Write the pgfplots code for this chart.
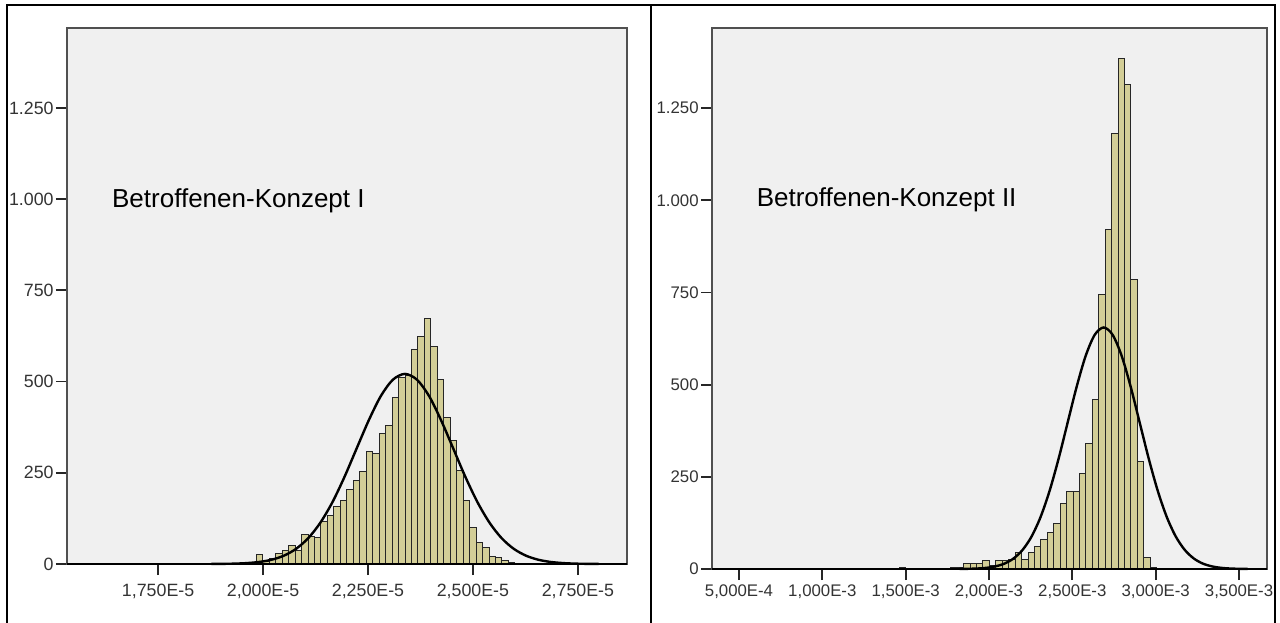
\documentclass[border=0pt]{standalone}
\usepackage{fontspec}
\setmainfont{Liberation Sans}
\usepackage{pgfplots}
\pgfplotsset{compat=1.18}
\definecolor{Panel}{HTML}{F0F0F0}
\definecolor{BarFill}{HTML}{D3CE97}
\definecolor{Frame}{HTML}{505050}
\definecolor{Ticktext}{HTML}{333333}
% shared SPSS-like histogram look
\pgfplotsset{spsshist/.style={scale only axis,enlargelimits=false,clip=false,
  axis background/.style={fill=Panel},
  axis line style={Frame,line width=0.9pt},
  tick pos=left,tick align=outside,major tick length=5.5pt,
  major tick style={black!85,line width=0.9pt},
  ymin=0,ytick={0,250,500,750,1000,1250},
  yticklabels={0,250,500,750,1.000,1.250},
  yticklabel style={inner sep=1pt},
  xticklabel style={inner sep=2pt},
  ticklabel style={text=Ticktext}}}
\pgfplotsset{bars/.style={ybar,bar shift=0pt,fill=BarFill,draw=black!85,line width=0.5pt},
  curve/.style={black,line width=1.2pt,smooth,mark=none}}
\begin{document}
\begin{tikzpicture}
\useasboundingbox (0,0) rectangle (640pt,-311pt);
\draw[black,line width=1pt] (3.4pt,-312pt) -- (3.4pt,-2.5pt) -- (637.5pt,-2.5pt) -- (637.5pt,-312pt);
\draw[black,line width=1pt] (325.5pt,-2.5pt) -- (325.5pt,-312pt);
% left panel
\begin{axis}[spsshist,at={(33.5pt,-282pt)},anchor=south west,width=280pt,height=268pt,
  xmin=1.533,xmax=2.867,ymax=1469,
  xtick={1.75,2.0,2.25,2.5,2.75},
  xticklabels={{1,750E-5},{2,000E-5},{2,250E-5},{2,500E-5},{2,750E-5}},
  ticklabel style={font=\fontsize{8.9}{10}\selectfont},
  xticklabel style={yshift=-2.5pt}]
\addplot[bars,bar width=0.0154] coordinates {(1.8993,1) (1.9147,1) (1.9301,2) (1.9455,1) (1.9609,4) (1.9763,5) (1.9917,25) (2.0071,6) (2.0225,16) (2.0379,30) (2.0533,37) (2.0687,52) (2.0841,37) (2.0995,80) (2.1149,76) (2.1303,73) (2.1457,116) (2.1611,133) (2.1765,158) (2.1919,174) (2.2073,204) (2.2227,228) (2.2381,253) (2.2535,309) (2.2689,304) (2.2843,359) (2.2997,379) (2.3151,457) (2.3305,512) (2.3459,516) (2.3613,588) (2.3767,623) (2.3921,674) (2.4075,596) (2.4229,505) (2.4383,402) (2.4537,338) (2.4691,256) (2.4845,174) (2.4999,100) (2.5153,59) (2.5307,46) (2.5461,21) (2.5615,18) (2.5769,9) (2.5923,4) (2.6077,2)};
\addplot[curve] coordinates {(1.8768,0.2) (1.9056,0.5) (1.9345,1.1) (1.9633,2.7) (1.9921,5.8) (2.0209,11.9) (2.0498,22.9) (2.0786,41.5) (2.1074,70.5) (2.1362,112.7) (2.1651,169) (2.1939,238.5) (2.2227,316) (2.2515,393) (2.2804,460) (2.3092,505) (2.338,521) (2.3668,505) (2.3957,460) (2.4245,393) (2.4533,316) (2.4821,238.5) (2.5110,169) (2.5398,112.7) (2.5686,70.5) (2.5974,41.5) (2.6263,22.9) (2.6551,11.9) (2.6839,5.8) (2.7127,2.7) (2.7416,1.1) (2.7704,0.5) (2.7992,0.2)};
\draw[black,line width=1.4pt] (rel axis cs:0,0) -- (rel axis cs:1,0);
\node[anchor=west,font=\fontsize{13}{15}\selectfont] at (rel axis cs:0.068,0.677) {Betroffenen-Konzept I};
\end{axis}
% right panel
\begin{axis}[spsshist,at={(356pt,-284.5pt)},anchor=south west,width=277.5pt,height=270.5pt,
  xmin=0.338,xmax=3.668,ymax=1467,
  xtick={0.5,1.0,1.5,2.0,2.5,3.0,3.5},
  xticklabels={{5,000E-4},{1,000E-3},{1,500E-3},{2,000E-3},{2,500E-3},{3,000E-3},{3,500E-3}},
  ticklabel style={font=\fontsize{8.4}{10}\selectfont}]
\addplot[bars,bar width=0.0386] coordinates {(1.3269,2) (1.4813,3) (1.5585,1) (1.5971,1) (1.6357,1) (1.6743,1) (1.7129,2) (1.7515,2) (1.7901,3) (1.8287,5) (1.8673,16) (1.9059,14) (1.9445,16) (1.9831,24) (2.0217,9) (2.0603,24) (2.0989,24) (2.1375,27) (2.1761,45) (2.2147,27) (2.2533,45) (2.2919,61) (2.3305,79) (2.3691,99) (2.4077,124) (2.4463,178) (2.4849,210) (2.5235,210) (2.5621,258) (2.6007,339) (2.6393,461) (2.6779,745) (2.7165,920) (2.7551,1180) (2.7937,1383) (2.8323,1315) (2.8709,784) (2.9095,292) (2.9481,30) (2.9867,5)};
\addplot[curve] coordinates {(1.824,0.2) (1.878,0.6) (1.932,1.4) (1.986,3.3) (2.040,7.3) (2.094,14.9) (2.148,28.8) (2.202,52.1) (2.256,88.6) (2.310,141.7) (2.364,212.7) (2.418,299.9) (2.472,397.3) (2.526,494.4) (2.580,578) (2.634,634.8) (2.688,655) (2.742,634.8) (2.796,578) (2.850,494.4) (2.904,397.3) (2.958,299.9) (3.012,212.7) (3.066,141.7) (3.120,88.6) (3.174,52.1) (3.228,28.8) (3.282,14.9) (3.336,7.3) (3.390,3.3) (3.444,1.4) (3.498,0.6) (3.552,0.2)};
\draw[black,line width=1.4pt] (rel axis cs:0,0) -- (rel axis cs:1,0);
\node[anchor=west,font=\fontsize{13}{15}\selectfont] at (rel axis cs:0.068,0.682) {Betroffenen-Konzept II};
\end{axis}
\end{tikzpicture}
\end{document}
